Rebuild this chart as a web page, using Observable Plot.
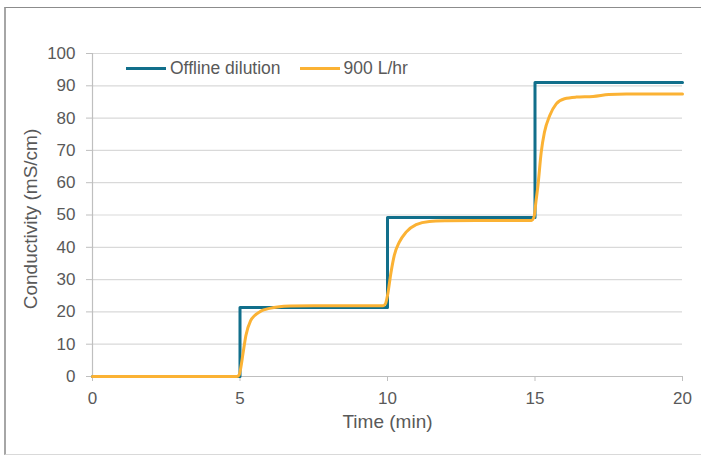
<!DOCTYPE html>
<html>
<head>
<meta charset="utf-8">
<script src="https://cdn.jsdelivr.net/npm/d3@7"></script>
<script src="https://cdn.jsdelivr.net/npm/@observablehq/plot@0.6"></script>
<style>
  html, body { margin: 0; padding: 0; background: #fff; }
  body { width: 701px; height: 456px; position: relative; overflow: hidden; font-family: "Liberation Sans", Arial, sans-serif; }
  #frame { position: absolute; left: 4px; top: 7px; width: 720px; height: 448px; border-left: 2px solid #a6a6a6; border-top: 1px solid #8c8c8c; border-bottom: 1px solid #d9d9d9; box-sizing: border-box; }
  #chart { position: absolute; left: 0; top: 0; }
  #legend { position: absolute; left: 126px; top: 58px; display: flex; align-items: center; font-size: 17.5px; color: #595959; white-space: nowrap; }
  .item { display: flex; align-items: center; margin-right: 19px; }
  .swatch { width: 40px; height: 3px; margin-right: 4px; }
</style>
</head>
<body>
<div id="frame"></div>
<div id="chart"></div>
<div id="legend"></div>
<script>
// Series names and colours
const seriesNames = ["Offline dilution", "900 L/hr"];
const seriesColors = ["#116f8b", "#fbb234"];

// Offline dilution: step levels (value holds from each time until the next)
const offlineTime = [0, 5, 10, 15, 20];
const offlineValue = [0, 21.4, 49.2, 91.0, 91.0];

// 900 L/hr: measured response
const flowTime = [0, 4.9, 4.97, 5.03, 5.1, 5.2, 5.36, 5.5, 5.65, 5.8, 6.0, 6.33, 6.7, 7.5, 9.0, 9.85, 9.93, 10.0, 10.12, 10.23, 10.4, 10.63, 10.97, 11.42, 12.0, 13.0, 14.0, 14.88, 14.97, 15.03, 15.1, 15.21, 15.32, 15.5, 15.72, 16.0, 16.4, 16.97, 17.5, 18.1, 19.0, 20.0];
const flowValue = [0, 0, 0.5, 2.9, 7.0, 12.7, 17.3, 18.9, 19.9, 20.6, 21.1, 21.6, 21.8, 21.9, 21.9, 21.9, 22.5, 25.1, 32.3, 37.5, 41.6, 44.7, 47.0, 48.0, 48.2, 48.3, 48.3, 48.3, 49.5, 54.0, 59.1, 69.4, 75.6, 80.8, 84.4, 86.0, 86.5, 86.7, 87.3, 87.5, 87.5, 87.5];

// Axis ticks and titles
const xTicks = [0, 5, 10, 15, 20];
const yTicks = [0, 10, 20, 30, 40, 50, 60, 70, 80, 90, 100];
const xTitle = "Time (min)";
const yTitle = "Conductivity (mS/cm)";

const offline = offlineTime.map((t, i) => ({t, v: offlineValue[i]}));
const flow = flowTime.map((t, i) => ({t, v: flowValue[i]}));

const gray = "#595959";
const axisGray = "#bfbfbf";

const chart = Plot.plot({
  width: 701,
  height: 456,
  marginLeft: 92,
  marginRight: 19,
  marginTop: 53,
  marginBottom: 80,
  style: { fontFamily: "Liberation Sans, Arial, sans-serif", fontSize: "17px", color: gray, background: "transparent", overflow: "visible" },
  x: { domain: [0, 20] },
  y: { domain: [0, 100] },
  marks: [
    Plot.ruleY(yTicks.filter(d => d > 0), { stroke: "#d9d9d9", strokeWidth: 1.2, strokeOpacity: 1 }),
    Plot.ruleX([0], { stroke: axisGray, strokeWidth: 1.2 }),
    Plot.ruleY([0], { stroke: axisGray, strokeWidth: 1.2 }),
    Plot.axisY({ ticks: yTicks, tickSize: 6, tickPadding: 11, stroke: axisGray, label: null, fill: gray }),
    Plot.axisX({ ticks: xTicks, tickSize: 5, tickPadding: 10, stroke: axisGray, label: null, fill: gray }),
    Plot.text([xTitle], { frameAnchor: "bottom", dy: 45, lineAnchor: "middle", fontSize: 19, fill: gray }),
    Plot.text([yTitle], { frameAnchor: "left", dx: -62, dy: 4, rotate: -90, textAnchor: "middle", lineAnchor: "middle", fontSize: 19, fill: gray }),
    Plot.line(offline, { x: "t", y: "v", curve: "step-after", stroke: seriesColors[0], strokeWidth: 3 }),
    Plot.line(flow, { x: "t", y: "v", curve: "monotone-x", stroke: seriesColors[1], strokeWidth: 3 })
  ]
});
document.getElementById("chart").appendChild(chart);

const legend = document.getElementById("legend");
seriesNames.forEach((name, i) => {
  const item = document.createElement("div");
  item.className = "item";
  const sw = document.createElement("div");
  sw.className = "swatch";
  sw.style.background = seriesColors[i];
  const label = document.createElement("span");
  label.textContent = name;
  item.appendChild(sw);
  item.appendChild(label);
  legend.appendChild(item);
});
</script>
</body>
</html>
